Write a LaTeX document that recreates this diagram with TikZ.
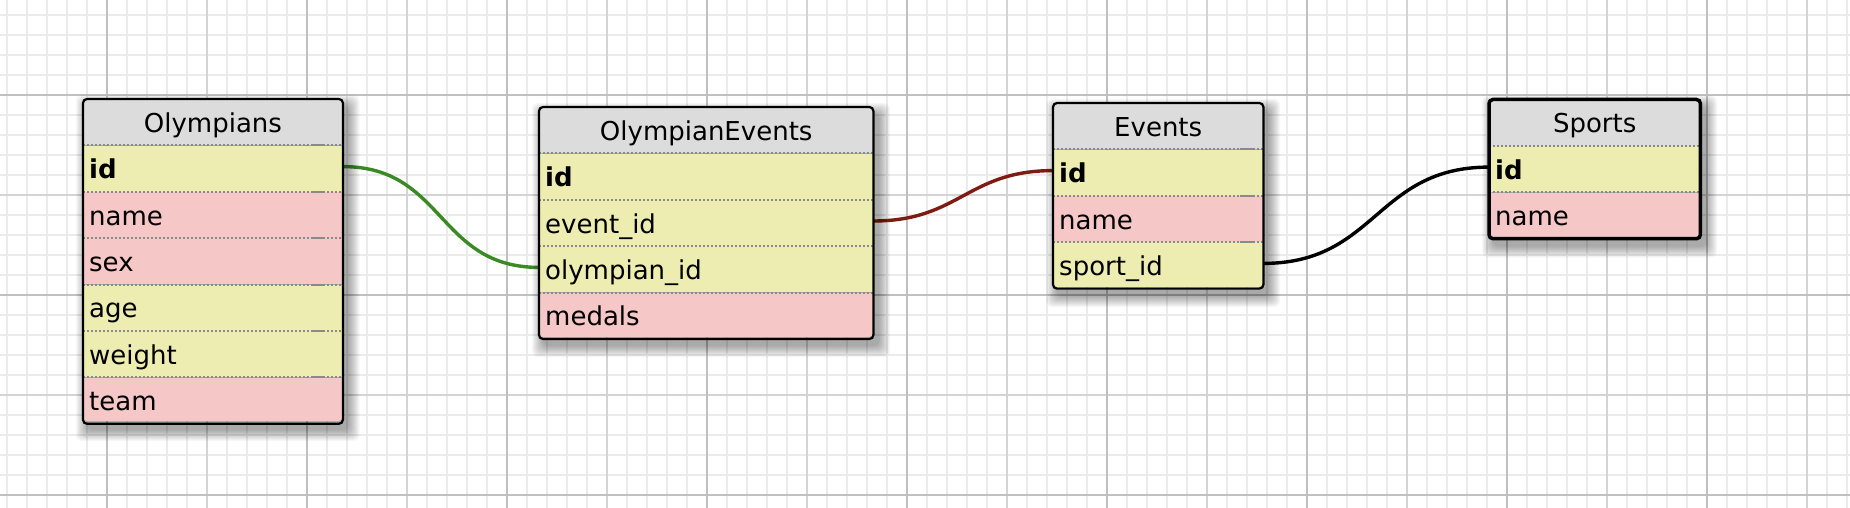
\documentclass[tikz,border=0pt]{standalone}
\usepackage{fontspec}
\setmainfont{DejaVu Sans}
\usetikzlibrary{backgrounds}
\definecolor{hdrgray}{HTML}{DCDCDC}
\definecolor{yel}{HTML}{EDEDB1}
\definecolor{pnk}{HTML}{F6C7C7}
\definecolor{gridlight}{HTML}{EBEBEB}
\definecolor{gridmid}{HTML}{D4D4D4}
\definecolor{griddark}{HTML}{C0C0C0}
\definecolor{dotgray}{HTML}{8A8A8A}
\definecolor{lnkgreen}{HTML}{3A8A24}
\definecolor{lnkred}{HTML}{7E1B12}
\tikzset{
  cell/.style={rectangle, draw=none, anchor=north west, inner xsep=6pt, inner ysep=0pt,
    minimum height=46pt, text height=24pt, text depth=4pt,
    font=\fontsize{26pt}{30pt}\selectfont, align=left},
  hdrcell/.style={cell, fill=hdrgray, align=center},
  keycell/.style={cell, fill=yel, font=\fontsize{26pt}{30pt}\selectfont\bfseries},
  ycell/.style={cell, fill=yel},
  pcell/.style={cell, fill=pnk},
  divider/.style={draw=dotgray, line width=2pt, dash pattern=on 2pt off 2pt},
  dividerseg/.style={draw=dotgray, line width=2pt},
  frame/.style={draw=black, line width=2.2pt, rounded corners=4pt},
  selframe/.style={draw=black, line width=3.5pt, rounded corners=4pt},
  link/.style={line width=3.4pt, out=0, in=180, looseness=1.18},
  gridminor/.style={draw=gridlight, line width=2pt},
  gridmedium/.style={draw=gridmid, line width=2pt},
  gridmajor/.style={draw=griddark, line width=2pt},
}
\newcommand\ershadow[4]{%
  \foreach \k in {1,...,12}{%
    \fill[black, opacity=0.032, rounded corners=6pt] (#1+5-\k, #2+8-\k) rectangle (#3+5+\k, #4+8+\k);}}
\begin{document}
\begin{tikzpicture}[x=1pt, y=-1pt]
\useasboundingbox (0,0) rectangle (1850,508);
\begin{pgfonlayer}{background}
  \fill[white] (0,0) rectangle (1850,508);
  \foreach \x in {7,27,...,1847} \draw[gridminor] (\x,0) -- (\x,508);
  \foreach \y in {15,35,...,495} \draw[gridminor] (0,\y) -- (1850,\y);
  \foreach \x in {207,407,...,1807} \draw[gridmedium] (\x,0) -- (\x,508);
  \foreach \y in {195,395} \draw[gridmedium] (0,\y) -- (1850,\y);
  \foreach \x in {107,307,...,1707} \draw[gridmajor] (\x,0) -- (\x,508);
  \foreach \y in {95,295,495} \draw[gridmajor] (0,\y) -- (1850,\y);
\end{pgfonlayer}

% ---------- Olympians ----------
\ershadow{83}{99}{342.5}{421}
\begin{scope}
  \clip[rounded corners=4pt] (83,99) rectangle (342.5,421);
  \node[hdrcell, text width=247.5pt] (olh) at (83,99) {Olympians};
  \node[keycell, text width=247.5pt] (olid) at (olh.south west) {id};
  \node[pcell, text width=247.5pt] (olname) at (olid.south west) {name};
  \node[pcell, text width=247.5pt] (olsex) at (olname.south west) {sex};
  \node[ycell, text width=247.5pt] (olage) at (olsex.south west) {age};
  \node[ycell, text width=247.5pt] (olweight) at (olage.south west) {weight};
  \node[pcell, text width=247.5pt] (olteam) at (olweight.south west) {team};
\end{scope}
\foreach \n in {olid,olname,olsex,olage,olweight,olteam}{
  \draw[divider] (\n.north west) -- (\n.north east);
  \draw[dividerseg] ([xshift=-30pt]\n.north east) -- ([xshift=-19pt]\n.north east);}
\draw[frame] (olh.north west) rectangle (olteam.south east);

% ---------- OlympianEvents ----------
\ershadow{539}{107}{873}{337}
\begin{scope}
  \clip[rounded corners=4pt] (539,107) rectangle (873,337);
  \node[hdrcell, text width=322pt] (oeh) at (539,107) {OlympianEvents};
  \node[keycell, text width=322pt] (oeid) at (oeh.south west) {id};
  \node[ycell, text width=322pt] (oeevent) at (oeid.south west) {event\_id};
  \node[ycell, text width=322pt] (oeolymp) at (oeevent.south west) {olympian\_id};
  \node[pcell, text width=322pt] (oemedals) at (oeolymp.south west) {medals};
\end{scope}
\foreach \n in {oeid,oeevent,oeolymp,oemedals}
  \draw[divider] (\n.north west) -- (\n.north east);
\draw[frame] (oeh.north west) rectangle (oemedals.south east);

% ---------- Events ----------
\ershadow{1053}{103}{1263}{287}
\begin{scope}
  \clip[rounded corners=4pt] (1053,103) rectangle (1263,287);
  \node[hdrcell, text width=198pt] (evh) at (1053,103) {Events};
  \node[keycell, text width=198pt] (evid) at (evh.south west) {id};
  \node[pcell, text width=198pt] (evname) at (evid.south west) {name};
  \node[ycell, text width=198pt] (evsport) at (evname.south west) {sport\_id};
\end{scope}
\foreach \n in {evid,evname,evsport}{
  \draw[divider] (\n.north west) -- (\n.north east);
  \draw[dividerseg] ([xshift=-23pt]\n.north east) -- ([xshift=-10pt]\n.north east);}
\draw[frame] (evh.north west) rectangle (evsport.south east);

% ---------- Sports ----------
\ershadow{1489}{99.5}{1700}{237.5}
\begin{scope}
  \clip[rounded corners=4pt] (1489,99.5) rectangle (1700,237.5);
  \node[hdrcell, text width=199pt] (sph) at (1489,99.5) {Sports};
  \node[keycell, text width=199pt] (spid) at (sph.south west) {id};
  \node[pcell, text width=199pt] (spname) at (spid.south west) {name};
\end{scope}
\foreach \n in {spid,spname}
  \draw[divider] (\n.north west) -- (\n.north east);
\draw[selframe] (sph.north west) rectangle (spname.south east);

% ---------- connectors ----------
\begin{pgfonlayer}{background}
  \draw[link, lnkgreen] ([yshift=2pt]olid.east) to ([yshift=2pt]oeolymp.west);
  \draw[link, lnkred] ([yshift=2pt]oeevent.east) to ([yshift=2pt]evid.west);
  \draw[link, black] ([yshift=2pt]evsport.east) to ([yshift=2pt]spid.west);
\end{pgfonlayer}
\end{tikzpicture}
\end{document}
